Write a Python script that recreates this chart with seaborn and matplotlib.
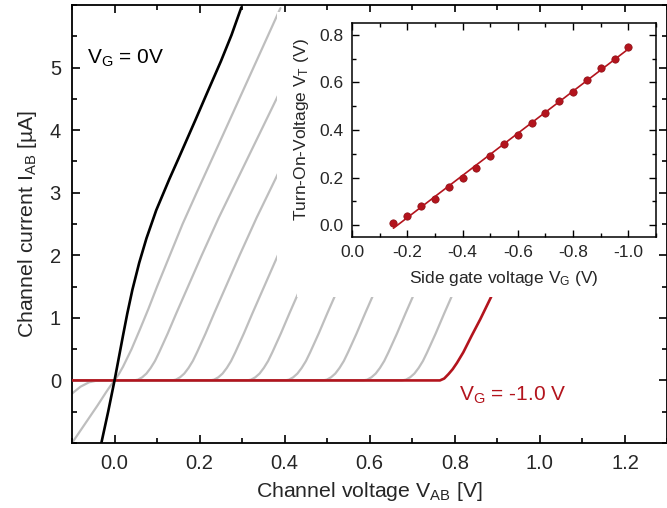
import numpy as np
import pandas as pd
import matplotlib
matplotlib.use("Agg")
import matplotlib.pyplot as plt
from matplotlib.patches import Polygon
from matplotlib.ticker import AutoMinorLocator, FormatStrFormatter
import seaborn as sns

sns.set_style("ticks")
plt.rcParams['font.family'] = ['Liberation Sans', 'DejaVu Sans']
plt.rcParams['mathtext.default'] = 'regular'
plt.rcParams['axes.unicode_minus'] = False

RED = '#B3141D'
GRAY = '#BEBEBE'

### I-V curves (V_AB in V, I_AB in uA)
vab_g0 = [-0.031, -0.015, 0.0, 0.01, 0.02, 0.03, 0.042, 0.058, 0.075, 0.098, 0.129, 0.15,
          0.17, 0.19, 0.216, 0.25, 0.275, 0.298]
iab_g0 = [-1.0, -0.5, 0.0, 0.36, 0.72, 1.07, 1.45, 1.88, 2.27, 2.72, 3.22, 3.54,
          3.85, 4.16, 4.57, 5.10, 5.52, 5.96]

# intermediate gate voltages -0.1 ... -0.9 V
gray_vg = [-0.1, -0.2, -0.3, -0.4, -0.5, -0.6, -0.7, -0.8, -0.9]
gray_vab = [
    [-0.10, -0.07, -0.04, -0.02, -0.01, 0.0, 0.01, 0.02, 0.04, 0.06, 0.08, 0.10, 0.13, 0.16, 0.193,
     0.25, 0.30, 0.35, 0.39],
    [-0.10, -0.08, -0.06, -0.04, 0.045, 0.055, 0.065, 0.075, 0.085, 0.095, 0.105, 0.125, 0.145,
     0.165, 0.205, 0.245, 0.295, 0.345, 0.395],
    [-0.10, 0.134, 0.144, 0.154, 0.164, 0.174, 0.184, 0.194, 0.214, 0.234, 0.254, 0.294, 0.334,
     0.384, 0.43],
    [-0.10, 0.224, 0.234, 0.244, 0.254, 0.264, 0.274, 0.284, 0.304, 0.324, 0.344, 0.384, 0.424],
    [-0.10, 0.311, 0.321, 0.331, 0.341, 0.351, 0.361, 0.371, 0.391, 0.411, 0.431, 0.471],
    [-0.10, 0.400, 0.410, 0.420, 0.430, 0.440, 0.450, 0.460, 0.480, 0.500, 0.520, 0.560],
    [-0.10, 0.489, 0.499, 0.509, 0.519, 0.529, 0.539, 0.549, 0.569, 0.589, 0.609, 0.649],
    [-0.10, 0.584, 0.594, 0.604, 0.614, 0.624, 0.634, 0.644, 0.664, 0.684, 0.704, 0.744],
    [-0.10, 0.675, 0.685, 0.695, 0.705, 0.715, 0.725, 0.735, 0.755, 0.775, 0.795, 0.835],
]
gray_iab = [
    [-1.00, -0.70, -0.40, -0.19, -0.09, 0.0, 0.10, 0.22, 0.50, 0.82, 1.15, 1.50, 2.00, 2.50, 3.00,
     3.85, 4.60, 5.35, 5.95],
    [-0.21, -0.10, -0.03, 0.0, 0.0, 0.012, 0.05, 0.11, 0.20, 0.31, 0.45, 0.75, 1.07,
     1.38, 2.00, 2.60, 3.30, 4.00, 4.70],
    [0.0, 0.0, 0.012, 0.05, 0.11, 0.20, 0.31, 0.45, 0.75, 1.07, 1.38, 2.00, 2.60, 3.30, 4.00],
    [0.0, 0.0, 0.012, 0.05, 0.11, 0.20, 0.31, 0.45, 0.75, 1.07, 1.38, 2.00, 2.60],
    [0.0, 0.0, 0.012, 0.05, 0.11, 0.20, 0.31, 0.45, 0.75, 1.07, 1.38, 2.00],
    [0.0, 0.0, 0.012, 0.05, 0.11, 0.20, 0.31, 0.45, 0.75, 1.07, 1.38, 2.00],
    [0.0, 0.0, 0.012, 0.05, 0.11, 0.20, 0.31, 0.45, 0.75, 1.07, 1.38, 2.00],
    [0.0, 0.0, 0.012, 0.05, 0.11, 0.20, 0.31, 0.45, 0.75, 1.07, 1.38, 2.00],
    [0.0, 0.0, 0.012, 0.05, 0.11, 0.20, 0.31, 0.45, 0.75, 1.07, 1.38, 2.00],
]

vab_g10 = [-0.10, 0.765, 0.775, 0.785, 0.795, 0.805, 0.820, 0.840, 0.860, 0.885, 0.92]
iab_g10 = [0.0, 0.0, 0.03, 0.10, 0.18, 0.28, 0.45, 0.72, 0.98, 1.33, 1.85]

### Inset: turn-on voltage vs side gate voltage
vg_inset = [-0.15, -0.20, -0.25, -0.30, -0.35, -0.40, -0.45, -0.50, -0.55,
            -0.60, -0.65, -0.70, -0.75, -0.80, -0.85, -0.90, -0.95, -1.00]
vt_inset = [0.01, 0.04, 0.08, 0.11, 0.16, 0.20, 0.24, 0.29, 0.34,
            0.38, 0.43, 0.47, 0.52, 0.56, 0.61, 0.66, 0.70, 0.75]

W, H = 667, 508
fig = plt.figure(figsize=(W / 100, H / 100), dpi=100)
ax = fig.add_axes([72 / W, 1 - 443 / H, (667.5 - 72) / W, (443 - 5) / H])

gray_df = pd.concat([pd.DataFrame({'vab': x, 'iab': y, 'vg': g})
                     for x, y, g in zip(gray_vab, gray_iab, gray_vg)])
sns.lineplot(data=gray_df, x='vab', y='iab', units='vg', estimator=None, sort=False,
             color=GRAY, lw=1.6, ax=ax, zorder=2)
sns.lineplot(x=vab_g10, y=iab_g10, sort=False, color=RED, lw=1.9, ax=ax, zorder=3)
sns.lineplot(x=vab_g0, y=iab_g0, sort=False, color='black', lw=1.9, ax=ax, zorder=4)

ax.set_xlim(-0.1, 1.3)
ax.set_ylim(-1, 6)
ax.set_xticks(np.arange(0, 1.21, 0.2))
ax.set_yticks(range(0, 6))
ax.xaxis.set_major_formatter(FormatStrFormatter('%.1f'))
ax.xaxis.set_minor_locator(AutoMinorLocator(2))
ax.yaxis.set_minor_locator(AutoMinorLocator(2))
ax.tick_params(which='both', direction='in', top=True, right=True, width=1.2, color='black')
ax.tick_params(which='major', length=6, labelsize=14.5, pad=8)
ax.tick_params(which='minor', length=3.5)
for sp in ax.spines.values():
    sp.set_linewidth(1.3)
    sp.set_color('black')
ax.set_xlabel('Channel voltage V$_{AB}$ [V]', fontsize=15.3, labelpad=5)
ax.set_ylabel('Channel current I$_{AB}$ [µA]', fontsize=15.3, labelpad=8)

ax.text(-0.065, 5.15, 'V$_G$ = 0V', fontsize=15, ha='left', va='center', color='black')
ax.text(0.81, -0.24, 'V$_G$ = -1.0 V', fontsize=15, ha='left', va='center', color=RED)

# white area behind the inset and its labels
px = [(277, 12), (658, 12), (658, 297), (297, 297), (297, 262), (277, 262)]
fig.add_artist(Polygon([(x / W, 1 - y / H) for x, y in px], closed=True,
                       transform=fig.transFigure, facecolor='white', edgecolor='none', zorder=1))

### Inset
axin = fig.add_axes([352 / W, 1 - 237 / H, 304 / W, 214 / H], zorder=3)
sns.regplot(x=vg_inset, y=vt_inset, ax=axin, ci=None, truncate=True,
            scatter_kws=dict(s=28, color=RED, edgecolor='#8A0E14', linewidths=0.5, alpha=1),
            line_kws=dict(color=RED, lw=1.2))
axin.set_xlim(0.0, -1.1)
axin.set_ylim(-0.05, 0.85)
axin.set_xticks(np.arange(0, -1.01, -0.2))
axin.set_yticks(np.arange(0, 0.81, 0.2))
axin.xaxis.set_major_formatter(FormatStrFormatter('%.1f'))
axin.yaxis.set_major_formatter(FormatStrFormatter('%.1f'))
axin.xaxis.set_minor_locator(AutoMinorLocator(2))
axin.yaxis.set_minor_locator(AutoMinorLocator(2))
axin.tick_params(which='both', direction='in', top=True, right=True, width=1.0, color='black')
axin.tick_params(which='major', length=5, labelsize=12.5, pad=6)
axin.tick_params(which='minor', length=3)
for sp in axin.spines.values():
    sp.set_linewidth(1.1)
    sp.set_color('black')
axin.set_xlabel('Side gate voltage V$_G$ (V)', fontsize=12.5, labelpad=6)
axin.set_ylabel('Turn-On-Voltage V$_T$ (V)', fontsize=12.5, labelpad=6)

fig.savefig('out.png', dpi=100)
